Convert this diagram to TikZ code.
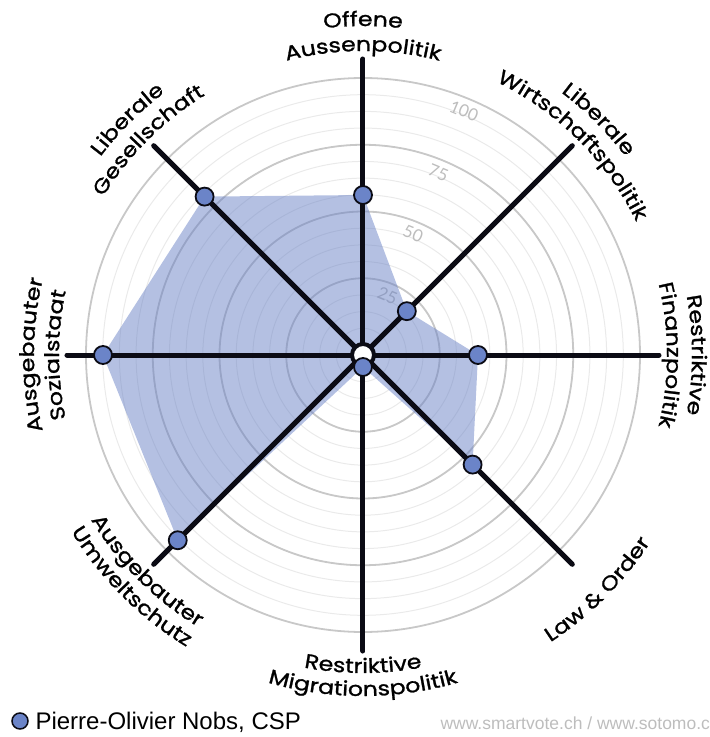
\documentclass[tikz,border=0pt]{standalone}
\usepackage{fontspec}
\setmainfont{Lato}
\newfontfamily\axisfamily[FakeStretch=1.18, FakeBold=1.2]{Poppins}
\newfontfamily\legendfont{Liberation Sans}
\usetikzlibrary{decorations.text}
\definecolor{axisblack}{HTML}{0B0B14}
\definecolor{gridmajor}{HTML}{C8C8C8}
\definecolor{gridminor}{HTML}{EAEAEA}
\definecolor{polyblue}{HTML}{6A82C6}
\definecolor{pointblue}{HTML}{6B84C8}
\definecolor{scalegray}{HTML}{BDBDBD}
\definecolor{creditgray}{HTML}{BDBDBD}
\newcommand{\axfont}{\axisfamily\fontsize{20}{24}\selectfont}
\tikzset{
	axis/.style={draw=axisblack, line width=5pt, line cap=round},
	majorring/.style={draw=gridmajor, line width=1.8pt},
	minorring/.style={draw=gridminor, line width=1pt},
	scorearea/.style={fill=polyblue, fill opacity=0.5},
	scorepoint/.style={circle, draw=axisblack, line width=1.8pt, fill=pointblue, minimum size=18pt, inner sep=0pt},
	hub/.style={circle, draw=axisblack, line width=4pt, fill=white, minimum size=22pt, inner sep=0pt},
	scalelabel/.style={text=scalegray, font=\fontsize{17}{17}\selectfont, rotate=-22.5},
	arclabel/.style={decorate, decoration={text along path, text align=center, text={|\axfont|#1}}},
}

\begin{document}
\begin{tikzpicture}[x=1pt, y=1pt]
	\useasboundingbox (-363,-382) rectangle (347,355);
	\coordinate (c) at (0,0);
	% rings
	\foreach \k [evaluate=\k as \rr using 10+16.6875*\k] in {1,...,15}
		\draw[minorring] (c) circle[radius=\rr pt];
	\foreach \k in {76.75,143.5,210.25,277}
		\draw[majorring] (c) circle[radius=\k pt];
	\foreach \v/\r in {25/64,50/131,75/197,100/264}
		\node[scalelabel] (scale\v) at (67.5:\r pt) {\v};
	% scores
	\coordinate (vN) at (90:160pt);
	\coordinate (vNE) at (45:62pt);
	\coordinate (vE) at (0:115pt);
	\coordinate (vSE) at (-45:155pt);
	\coordinate (vS) at (-90:12pt);
	\coordinate (vSW) at (-135:262pt);
	\coordinate (vW) at (180:260pt);
	\coordinate (vNW) at (135:224pt);
	\fill[scorearea] (vN)--(vNE)--(vE)--(vSE)--(vS)--(vSW)--(vW)--(vNW)--cycle;
	% axes
	\foreach \a/\n in {90/N,45/NE,0/E,-45/SE,-90/S,-135/SW,180/W,135/NW}{
		\coordinate (end\n) at (\a:296pt);
		\draw[axis] (c)--(end\n);
	}
	\node[hub] (hub) at (c) {};
	\foreach \n in {N,NE,E,SE,S,SW,W,NW}
		\node[scorepoint] (p\n) at (v\n) {};
	% axis titles
	\path[arclabel={Offene}] (130:329pt) arc[start angle=130, end angle=50, radius=329pt];
	\path[arclabel={Aussenpolitik}] (130:304pt) arc[start angle=130, end angle=50, radius=304pt];
	\path[arclabel={Liberale}] (85:329pt) arc[start angle=85, end angle=5, radius=329pt];
	\path[arclabel={Wirtschaftspolitik}] (85:304pt) arc[start angle=85, end angle=5, radius=304pt];
	\path[arclabel={Restriktive}] (40:329pt) arc[start angle=40, end angle=-40, radius=329pt];
	\path[arclabel={Finanzpolitik}] (40:304pt) arc[start angle=40, end angle=-40, radius=304pt];
	\path[arclabel={Liberale}] (175:329pt) arc[start angle=175, end angle=95, radius=329pt];
	\path[arclabel={Gesellschaft}] (175:304pt) arc[start angle=175, end angle=95, radius=304pt];
	\path[arclabel={Ausgebauter}] (220:329pt) arc[start angle=220, end angle=140, radius=329pt];
	\path[arclabel={Sozialstaat}] (220:304pt) arc[start angle=220, end angle=140, radius=304pt];
	\path[arclabel={Ausgebauter}] (185:318pt) arc[start angle=185, end angle=265, radius=318pt];
	\path[arclabel={Umweltschutz}] (185:341pt) arc[start angle=185, end angle=265, radius=341pt];
	\path[arclabel={Restriktive}] (230:318pt) arc[start angle=230, end angle=310, radius=318pt];
	\path[arclabel={Migrationspolitik}] (230:341pt) arc[start angle=230, end angle=310, radius=341pt];
	\path[arclabel={Law {\&} Order}] (275:343pt) arc[start angle=275, end angle=355, radius=343pt];
	% legend
	\node[scorepoint, minimum size=16pt, line width=1.5pt] (legdot) at (-343,-366) {};
	\node[anchor=base west, font=\legendfont\fontsize{24}{24}\selectfont] (legtext) at (-331,-374) {Pierre-Olivier Nobs, CSP};
	\node[anchor=base west, text=creditgray, font=\legendfont\fontsize{17.5}{18}\selectfont] (credit) at (74,-374) {www.smartvote.ch / www.sotomo.ch};
\end{tikzpicture}
\end{document}
